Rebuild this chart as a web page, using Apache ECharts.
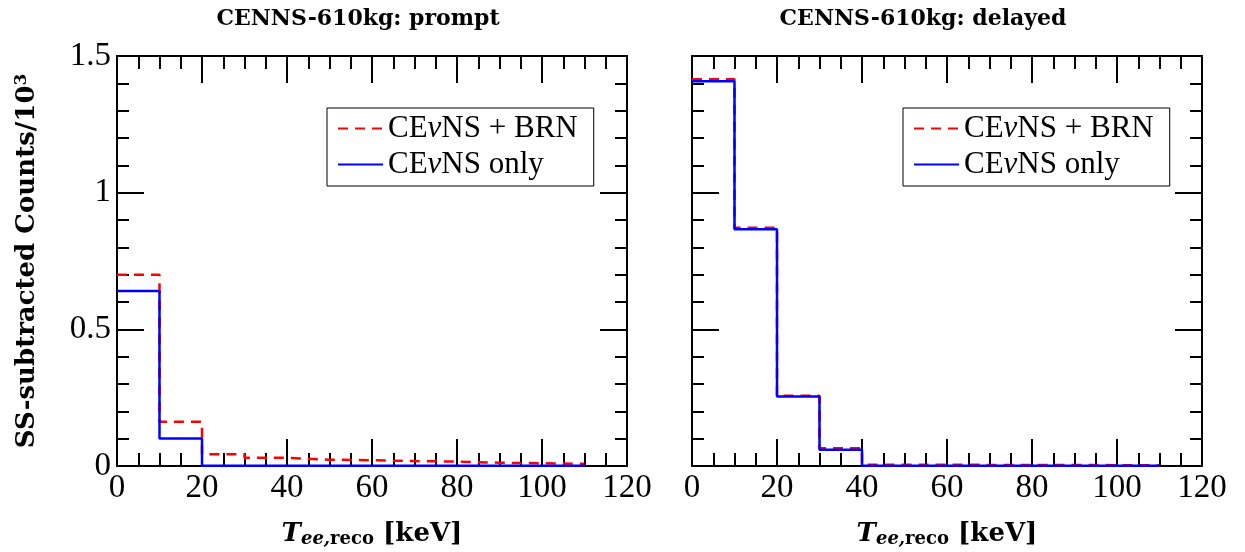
<!DOCTYPE html>
<html>
<head>
<meta charset="utf-8">
<script src="https://cdn.jsdelivr.net/npm/echarts@6/dist/echarts.min.js"></script>
<style>html,body{margin:0;padding:0;background:#fff;}#c{width:1245px;height:552px;}</style>
</head>
<body>
<div id="c"></div>
<script>
// ---- data ----
const binEdges = [0, 10, 20, 30, 40, 50, 60, 70, 80, 90, 100, 110];
const promptBRN  = [0.700, 0.162, 0.043, 0.030, 0.023, 0.021, 0.018, 0.016, 0.012, 0.010, 0.008];
const promptOnly = [0.640, 0.101, 0.001, 0.001, 0.001, 0.001, 0.001, 0.001, 0.001, 0.001, 0.001];
const delayedBRN  = [1.415, 0.872, 0.257, 0.065, 0.005, 0.005, 0.004, 0.004, 0.004, 0.003, 0.003];
const delayedOnly = [1.408, 0.866, 0.254, 0.059, 0.001, 0.001, 0.001, 0.001, 0.001, 0.001, 0.001];
const panelTitles = ['CENNS-610kg: prompt', 'CENNS-610kg: delayed'];
const seriesNames = ['CE\u03bdNS + BRN', 'CE\u03bdNS only'];
const xTicks = {min: 0, max: 120, interval: 20};
const yTicks = {min: 0, max: 1.5, interval: 0.5};

function stepData(vals) {
  const d = vals.map((v, i) => [binEdges[i], v]);
  d.push([binEdges[binEdges.length - 1], vals[vals.length - 1]]);
  return d;
}

const serif = 'Liberation Serif';
const bserif = 'DejaVu Serif';
const grids = [
  {left: 117, right: 618, top: 56, bottom: 86, containLabel: false, outerBoundsMode: 'none'},
  {left: 692, right: 43, top: 56, bottom: 86, containLabel: false, outerBoundsMode: 'none'}
];

const xAxes = [], yAxes = [], series = [], legends = [], titles = [];
const titleCenters = [353, 918];
const legendLefts = [327, 903];
function axisCommon(showLabels, majorLen, minorSplit, minorLen) {
  return {
    axisLine: {show: true, onZero: false, lineStyle: {color: '#000', width: 2}},
    axisTick: {show: true, inside: true, length: majorLen, lineStyle: {color: '#000', width: 2}},
    minorTick: {show: true, splitNumber: minorSplit, length: minorLen, lineStyle: {color: '#000', width: 2}},
    splitLine: {show: false},
    minorSplitLine: {show: false},
    axisLabel: {show: showLabels, color: '#000', fontFamily: serif, fontSize: 33, margin: 6}
  };
}
grids.forEach((g, gi) => {
  xAxes.push(Object.assign({type: 'value', gridIndex: gi, position: 'bottom', min: xTicks.min, max: xTicks.max, interval: xTicks.interval,
    name: '{t|T}{e|ee,}{r|reco}{n| [keV]}', nameLocation: 'middle', nameGap: 54,
    nameTextStyle: {rich: {
      t: {fontFamily: bserif, fontSize: 26, fontWeight: 'bold', fontStyle: 'italic', color: '#000'},
      e: {fontFamily: bserif, fontSize: 18, fontWeight: 'bold', fontStyle: 'italic', color: '#000', verticalAlign: 'bottom', padding: [10, 0, 0, 0]},
      r: {fontFamily: bserif, fontSize: 18, fontWeight: 'bold', color: '#000', verticalAlign: 'bottom', padding: [10, 0, 0, 0]},
      n: {fontFamily: bserif, fontSize: 26, fontWeight: 'bold', color: '#000'}
    }}
  }, axisCommon(true, 27, 4, 13)));
  xAxes.push(Object.assign({type: 'value', gridIndex: gi, position: 'top', min: xTicks.min, max: xTicks.max, interval: xTicks.interval}, axisCommon(false, 27, 4, 13)));
  const yl = Object.assign({type: 'value', gridIndex: gi, position: 'left', min: yTicks.min, max: yTicks.max, interval: yTicks.interval}, axisCommon(gi === 0, 27, 5, 12));
  if (gi === 0) {
    yl.name = 'SS-subtracted Counts/10{s|3}';
    yl.nameLocation = 'middle';
    yl.nameGap = 75;
    yl.nameTextStyle = {fontFamily: bserif, fontSize: 26, fontWeight: 'bold', color: '#000',
      rich: {s: {fontFamily: bserif, fontSize: 17, fontWeight: 'bold', color: '#000', verticalAlign: 'top', padding: [0, 0, 12, 0]}}};
  }
  yAxes.push(yl);
  yAxes.push(Object.assign({type: 'value', gridIndex: gi, position: 'right', min: yTicks.min, max: yTicks.max, interval: yTicks.interval}, axisCommon(false, 27, 5, 12)));
  titles.push({text: panelTitles[gi], left: titleCenters[gi], top: 3, textAlign: 'center',
    textStyle: {fontFamily: bserif, fontSize: 22, fontWeight: 'bold', color: '#000'}});
  legends.push({
    data: seriesNames, orient: 'vertical', left: legendLefts[gi], top: 108,
    backgroundColor: '#fff', borderColor: '#000', borderWidth: 1, borderRadius: 0,
    padding: [5, 16, 6, 10], itemGap: 5, itemWidth: 45, itemHeight: 14,
    itemStyle: {opacity: 0},
    textStyle: {fontFamily: serif, fontSize: 31, color: '#000',
      rich: {i: {fontFamily: serif, fontStyle: 'italic', fontSize: 31, color: '#000'}, n: {fontFamily: serif, fontSize: 31, color: '#000'}}},
    formatter: n => '{n|' + n.replace('\u03bd', '}{i|\u03bd}{n|') + '}'
  });
});

const panels = [[promptBRN, promptOnly], [delayedBRN, delayedOnly]];
panels.forEach((p, gi) => {
  series.push({name: seriesNames[0], type: 'line', step: 'end', xAxisIndex: gi * 2, yAxisIndex: gi * 2,
    symbol: 'none', data: stepData(p[0]), lineStyle: {color: '#ff0000', width: 2.5, type: [10, 7]}, itemStyle: {color: '#ff0000'}, z: 2, animation: false});
  series.push({name: seriesNames[1], type: 'line', step: 'end', xAxisIndex: gi * 2, yAxisIndex: gi * 2,
    symbol: 'none', data: stepData(p[1]), lineStyle: {color: '#0000ff', width: 2.5, type: 'solid'}, itemStyle: {color: '#0000ff'}, z: 3, animation: false});
});

const chart = echarts.init(document.getElementById('c'), null, {renderer: 'canvas'});
chart.setOption({
  animation: false,
  backgroundColor: '#fff',
  title: titles,
  grid: grids,
  xAxis: xAxes,
  yAxis: yAxes,
  legend: legends,
  series: series
});
</script>
</body>
</html>
